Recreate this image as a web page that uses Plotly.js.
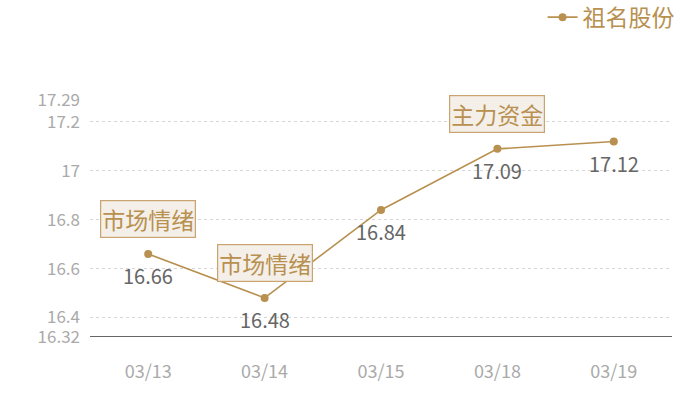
<!DOCTYPE html>
<html>
<head>
<meta charset="utf-8">
<script src="https://cdn.plot.ly/plotly-3.0.1.min.js"></script>
<style>
  html, body { margin: 0; padding: 0; background: #fff; }
  #chart { width: 700px; height: 400px; }
</style>
</head>
<body>
<div id="chart"></div>
<script>
var dates = ["03/13", "03/14", "03/15", "03/18", "03/19"];
var prices = [16.66, 16.48, 16.84, 17.09, 17.12];
var yTicks = [16.32, 16.4, 16.6, 16.8, 17, 17.2, 17.29];
var notes = [
  { date: "03/13", text: "市场情绪" },
  { date: "03/14", text: "市场情绪" },
  { date: "03/18", text: "主力资金" }
];

var gold = "#b8904f";
var font = "Noto Sans CJK SC, Noto Sans, sans-serif";

var data = [{
  type: "scatter",
  mode: "lines+markers",
  name: "祖名股份",
  x: dates,
  y: prices,
  line: { color: gold, width: 1.6 },
  marker: { color: gold, size: 8 }
}];

// value labels under each point
var annotations = dates.map(function (d, i) {
  return {
    x: d, y: prices[i],
    xref: "x", yref: "y",
    text: prices[i].toFixed(2),
    showarrow: false,
    yshift: -22,
    font: { color: "#666666", size: 20, family: font }
  };
});

notes.forEach(function (n) {
  var i = dates.indexOf(n.date);
  annotations.push({
    x: n.date, y: prices[i],
    xref: "x", yref: "y",
    text: n.text,
    showarrow: false,
    yshift: 35,
    font: { color: gold, size: 23, family: font },
    bgcolor: "#f4efe9",
    bordercolor: "#c9a46e",
    borderwidth: 1.2,
    borderpad: 1
  });
});

var layout = {
  width: 700, height: 400,
  margin: { t: 100, r: 28, b: 63, l: 90, autoexpand: false },
  paper_bgcolor: "#ffffff",
  plot_bgcolor: "#ffffff",
  font: { family: font },
  showlegend: true,
  legend: {
    x: 1.013, xanchor: "right", y: 1.44, yanchor: "top",
    orientation: "h",
    font: { color: gold, size: 23, family: font },
    itemwidth: 30
  },
  xaxis: {
    type: "category",
    range: [-0.5, 4.5],
    showgrid: false,
    zeroline: false,
    showline: false,
    ticks: "",
    tickfont: { color: "#aaaaaa", size: 18, family: font },
    ticklabelstandoff: 22
  },
  yaxis: {
    range: [16.32, 17.29],
    tickvals: yTicks,
    ticktext: yTicks.map(String),
    tickfont: { color: "#aaaaaa", size: 17, family: font },
    showgrid: true,
    gridcolor: "#d6d6d6",
    griddash: "dot",
    gridwidth: 1,
    zeroline: false,
    showline: false,
    ticks: "",
    ticklabelstandoff: 9
  },
  shapes: [{
    type: "line", xref: "paper", yref: "y", layer: "above",
    x0: 0, x1: 1, y0: 16.32, y1: 16.32,
    line: { color: "#333333", width: 1.3 }
  }],
  annotations: annotations
};

Plotly.newPlot("chart", data, layout, { displayModeBar: false, responsive: false });
</script>
</body>
</html>
